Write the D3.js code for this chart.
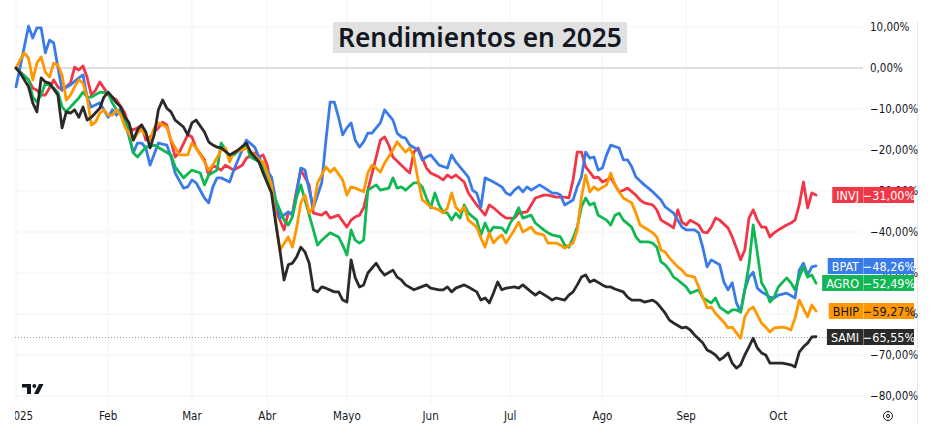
<!DOCTYPE html>
<html lang="es">
	<head>
		<meta charset="utf-8">
		<title>Rendimientos en 2025</title>
		<script type="text/javascript" src="https://cdn.jsdelivr.net/npm/d3@7/dist/d3.min.js"></script>
		<style type="text/css">
			body { margin: 0; background: #ffffff; }
			.axis text { font-family: "Liberation Sans Narrow", "DejaVu Sans Condensed", sans-serif; font-size: 11.5px; fill: #131722; }
			.tag text { font-family: "Liberation Sans Narrow", "DejaVu Sans Condensed", sans-serif; font-size: 12.5px; }
		</style>
	</head>
	<body>
		<script type="text/javascript">

			//Width and height
			var w = 935;
			var h = 435;

			//Month labels and the trading session where each month starts
			var monthLabels = ["2025", "Feb", "Mar", "Abr", "Mayo", "Jun", "Jul", "Ago", "Sep", "Oct"];
			var monthSessions = [0, 22, 42, 60, 79, 99, 118, 140, 160, 182];

			//Right axis ticks (%)
			var yTicks = [10, 0, -10, -20, -30, -40, -50, -60, -70, -80];

			//Series: [session, % change since start of year]
			var invj = [[0,0],[1,-1.0],[3,-2.9],[4,-4.9],[5,-5.4],[6,-6.6],[7,-6.6],[8,-4.9],[9,-2.9],[10,-4.6],[11,-5.4],[13,-3.7],[14,0.2],[15,-0.5],[16,0.5],[17,-2.4],[18,-6.6],[19,-5.4],[20,-3.4],[21,-4.9],[22,-6.6],[23,-7.1],[24,-7.8],[26,-11.0],[27,-14.6],[28,-15.1],[29,-14.6],[30,-13.9],[31,-17.6],[32,-16.8],[34,-14.6],[35,-13.2],[36,-13.9],[38,-21.7],[39,-20.5],[41,-16.3],[42,-16.8],[43,-19.5],[45,-22.4],[46,-26.1],[47,-23.7],[49,-24.9],[50,-23.7],[52,-24.9],[54,-23.7],[55,-22.0],[57,-20.7],[58,-21.7],[59,-21.2],[60,-23.7],[61,-29.8],[62,-34.6],[64,-39.5],[65,-35.4],[66,-35.4],[67,-29.8],[68,-24.9],[70,-28.5],[71,-35.4],[73,-35.9],[74,-35.1],[75,-36.6],[77,-35.9],[79,-38.8],[80,-37.1],[81,-36.3],[82,-35.9],[83,-34.1],[84,-29.8],[86,-21.7],[87,-17.6],[88,-16.8],[89,-18.8],[90,-21.7],[92,-23.7],[94,-25.6],[95,-20.5],[96,-19.5],[98,-24.4],[99,-25.6],[101,-26.6],[102,-27.3],[103,-26.1],[104,-26.8],[105,-26.1],[107,-27.8],[108,-30.5],[110,-33.4],[111,-34.6],[112,-35.9],[113,-33.4],[114,-34.1],[116,-35.9],[117,-36.6],[118,-36.6],[119,-36.6],[120,-35.4],[122,-35.1],[124,-31.7],[126,-31.0],[127,-31.0],[129,-31.5],[131,-31.5],[132,-31.7],[133,-27.3],[134,-20.5],[135,-20.5],[136,-24.1],[137,-25.4],[138,-26.8],[139,-26.6],[140,-27.8],[141,-27.3],[142,-26.8],[144,-30.2],[145,-29.8],[146,-29.3],[148,-31.0],[149,-32.2],[150,-32.9],[152,-33.4],[153,-34.6],[154,-37.1],[156,-38.3],[157,-39.0],[158,-34.6],[159,-37.6],[160,-38.3],[161,-37.1],[163,-38.3],[164,-40.0],[165,-40.2],[166,-38.8],[167,-36.6],[168,-37.1],[170,-39.0],[171,-41.2],[172,-43.9],[173,-46.8],[174,-44.4],[175,-36.6],[176,-34.6],[177,-37.1],[178,-38.8],[179,-38.8],[180,-41.2],[181,-40.2],[182,-39.5],[184,-38.3],[185,-37.8],[186,-37.1],[187,-33.4],[188,-27.8],[189,-34.1],[190,-30.5],[191,-31.00]];

			var bpat = [[0,-4.6],[3,10.2],[4,7.3],[5,9.8],[6,9.8],[7,3.7],[8,6.8],[9,6.1],[10,0.2],[11,-5.4],[13,-4.1],[15,-2.4],[16,-1.7],[17,-7.3],[18,-9.5],[20,-8.5],[21,-10.2],[22,-12.0],[23,-10.2],[24,-11.5],[25,-9.8],[26,-13.4],[27,-16.8],[28,-20.7],[29,-18.3],[30,-18.3],[31,-19.5],[32,-23.7],[34,-18.3],[36,-18.8],[37,-21.7],[38,-25.6],[40,-29.3],[41,-29.0],[42,-27.3],[43,-28.0],[45,-31.7],[46,-32.9],[47,-29.0],[48,-26.8],[49,-26.8],[51,-27.8],[52,-24.9],[54,-20.0],[55,-17.6],[57,-19.3],[58,-21.7],[59,-23.7],[61,-26.6],[62,-32.2],[63,-36.6],[65,-35.1],[66,-35.9],[67,-30.5],[68,-24.4],[69,-24.9],[70,-29.8],[71,-34.1],[73,-28.0],[74,-17.6],[75,-8.3],[76,-8.3],[77,-12.0],[78,-16.3],[79,-14.6],[80,-13.4],[81,-17.6],[82,-19.3],[83,-18.0],[84,-15.9],[85,-15.9],[86,-14.6],[87,-13.4],[88,-10.2],[90,-12.7],[91,-15.9],[92,-16.8],[93,-17.1],[94,-18.8],[96,-20.0],[97,-22.4],[98,-21.7],[99,-21.2],[101,-23.7],[103,-24.4],[104,-21.2],[105,-22.9],[106,-24.1],[108,-26.6],[109,-29.8],[110,-30.5],[111,-33.9],[112,-26.8],[114,-27.8],[116,-29.0],[117,-30.5],[118,-31.0],[119,-29.8],[120,-29.0],[121,-30.2],[122,-29.0],[123,-29.8],[125,-28.5],[127,-29.8],[128,-30.5],[129,-30.5],[130,-31.0],[131,-33.4],[133,-32.2],[134,-29.0],[135,-26.6],[136,-20.5],[137,-22.0],[138,-21.7],[139,-24.9],[140,-24.4],[141,-21.2],[142,-18.8],[144,-19.5],[145,-22.4],[146,-22.4],[147,-24.1],[148,-26.6],[150,-28.5],[151,-29.3],[152,-30.2],[154,-32.2],[155,-33.9],[157,-35.4],[158,-37.1],[159,-38.8],[160,-39.5],[162,-39.5],[163,-40.2],[164,-43.9],[165,-48.5],[166,-46.8],[168,-48.0],[169,-52.2],[170,-54.1],[171,-52.4],[172,-57.3],[173,-59.5],[174,-54.1],[175,-51.0],[176,-49.8],[177,-53.7],[178,-54.6],[180,-55.9],[181,-56.1],[182,-55.4],[184,-54.9],[186,-56.1],[187,-49.3],[188,-47.6],[189,-50.5],[190,-48.5],[191,-48.26]];

			var agro = [[0,0],[1,-1.0],[3,-2.9],[4,-7.1],[5,-8.3],[6,-6.6],[7,-3.7],[9,-4.9],[10,-5.9],[11,-9.5],[12,-10.7],[13,-9.5],[15,-7.3],[16,-5.9],[17,-7.1],[18,-7.1],[20,-5.9],[22,-6.1],[23,-8.5],[24,-10.2],[26,-12.0],[28,-20.7],[29,-21.7],[31,-19.3],[33,-18.8],[35,-20.0],[37,-21.2],[38,-24.1],[40,-26.8],[42,-24.9],[44,-25.6],[45,-28.5],[46,-26.1],[48,-24.9],[49,-18.3],[51,-21.7],[52,-21.2],[54,-19.5],[55,-18.8],[56,-21.7],[58,-22.9],[59,-24.4],[61,-29.0],[62,-32.2],[64,-37.1],[65,-38.3],[66,-36.3],[67,-31.5],[68,-28.5],[69,-32.2],[71,-39.5],[72,-43.2],[73,-42.0],[75,-40.2],[77,-41.2],[78,-43.2],[79,-45.6],[80,-39.5],[81,-42.0],[82,-42.7],[83,-42.0],[84,-29.8],[86,-28.5],[87,-29.8],[89,-29.3],[90,-26.8],[91,-29.3],[92,-29.0],[93,-29.8],[95,-28.0],[96,-28.0],[97,-29.0],[98,-31.7],[99,-34.1],[100,-30.5],[101,-33.4],[102,-35.1],[103,-35.4],[104,-37.1],[105,-35.4],[106,-36.6],[107,-33.4],[108,-35.4],[110,-37.1],[111,-40.7],[112,-37.8],[113,-40.2],[114,-38.8],[116,-39.0],[117,-40.2],[118,-37.8],[119,-36.3],[120,-34.1],[121,-36.6],[123,-35.9],[124,-37.8],[126,-39.5],[127,-40.2],[128,-40.7],[130,-41.2],[131,-43.2],[132,-43.7],[133,-41.5],[134,-38.8],[135,-33.9],[136,-31.7],[137,-33.4],[138,-32.9],[139,-35.9],[141,-37.1],[142,-38.3],[143,-35.9],[144,-35.4],[145,-37.1],[147,-38.8],[148,-41.2],[149,-42.4],[151,-42.4],[152,-42.7],[153,-43.7],[154,-47.3],[155,-48.0],[156,-49.3],[157,-51.0],[158,-51.7],[160,-53.4],[161,-54.9],[163,-54.1],[164,-56.1],[166,-57.3],[167,-56.1],[168,-58.3],[170,-59.8],[171,-59.0],[172,-59.0],[173,-59.5],[174,-54.1],[175,-48.0],[176,-38.3],[177,-45.1],[178,-52.4],[179,-54.1],[180,-57.1],[181,-55.9],[182,-53.4],[184,-51.2],[185,-52.4],[186,-54.1],[187,-51.0],[188,-48.5],[189,-51.0],[190,-50.5],[191,-52.49]];

			var bhip = [[0,0],[1,2.0],[2,3.7],[3,2.4],[4,-2.9],[5,1.2],[6,2.7],[7,-1.0],[8,-2.2],[9,1.2],[10,0.7],[11,-1.7],[12,-7.8],[13,-6.6],[14,-4.6],[15,-2.9],[16,-3.7],[17,-7.3],[18,-13.9],[19,-13.2],[20,-11.0],[21,-10.2],[22,-11.5],[23,-11.5],[24,-10.2],[25,-11.5],[26,-14.4],[28,-17.6],[29,-15.9],[30,-15.1],[32,-17.6],[33,-14.6],[34,-13.4],[36,-14.4],[37,-17.6],[39,-21.2],[41,-21.2],[42,-18.3],[43,-19.5],[45,-22.9],[46,-24.9],[47,-23.7],[49,-20.0],[50,-19.5],[51,-22.9],[52,-20.5],[54,-20.0],[55,-19.5],[57,-21.2],[58,-22.4],[59,-22.9],[61,-28.5],[62,-37.1],[63,-44.4],[65,-41.2],[66,-43.7],[67,-39.0],[68,-32.9],[69,-31.0],[70,-35.4],[71,-33.9],[72,-28.0],[74,-24.1],[75,-25.4],[76,-24.4],[78,-27.3],[79,-31.0],[80,-29.0],[81,-29.3],[83,-30.2],[84,-25.6],[85,-23.7],[86,-24.4],[87,-25.4],[88,-23.2],[90,-20.0],[91,-18.0],[92,-19.3],[93,-20.5],[94,-19.5],[95,-21.7],[96,-27.3],[97,-32.2],[98,-32.9],[99,-33.9],[101,-34.6],[102,-35.4],[103,-34.1],[104,-30.5],[105,-33.9],[106,-35.1],[107,-33.9],[108,-37.1],[110,-38.8],[111,-41.5],[112,-43.7],[113,-40.2],[114,-42.7],[115,-41.5],[116,-40.7],[117,-42.7],[119,-39.5],[120,-37.6],[121,-40.0],[123,-38.8],[124,-40.2],[126,-40.7],[127,-42.7],[129,-42.7],[130,-43.2],[131,-43.9],[133,-42.7],[134,-39.5],[135,-31.5],[136,-26.1],[137,-30.2],[138,-29.0],[139,-29.8],[141,-28.5],[142,-25.6],[143,-28.5],[144,-30.2],[145,-31.7],[147,-32.9],[148,-35.4],[149,-38.3],[151,-39.5],[152,-40.2],[153,-41.2],[154,-44.4],[155,-44.9],[156,-46.3],[158,-48.5],[159,-49.3],[160,-50.5],[162,-51.0],[163,-53.4],[165,-58.5],[166,-58.3],[167,-59.8],[169,-62.0],[170,-63.4],[171,-63.2],[172,-64.6],[173,-65.9],[174,-60.7],[175,-59.0],[176,-58.3],[177,-60.2],[178,-62.2],[179,-63.2],[180,-64.4],[181,-63.4],[183,-63.2],[184,-63.4],[185,-63.9],[186,-61.0],[187,-56.6],[189,-60.7],[190,-57.8],[191,-59.27]];

			var sami = [[0,0],[1,-1.2],[3,-4.6],[4,-8.5],[5,-10.7],[6,-2.4],[7,-3.4],[8,-3.7],[10,-6.6],[11,-14.6],[12,-10.7],[13,-11.0],[14,-10.2],[15,-12.0],[16,-9.5],[17,-12.7],[18,-12.0],[20,-9.8],[21,-7.1],[22,-5.9],[23,-7.1],[24,-8.5],[25,-9.5],[26,-12.0],[27,-13.4],[28,-17.6],[29,-15.1],[30,-13.9],[31,-15.6],[32,-19.5],[33,-16.3],[34,-10.2],[35,-7.8],[36,-9.8],[37,-10.7],[38,-12.7],[40,-14.4],[41,-16.3],[42,-13.4],[43,-12.7],[45,-15.6],[46,-18.0],[47,-18.8],[48,-19.3],[49,-19.5],[51,-21.2],[52,-20.7],[53,-20.0],[55,-18.3],[56,-20.5],[57,-21.7],[58,-22.9],[59,-25.6],[61,-30.5],[62,-37.8],[63,-44.4],[64,-51.7],[65,-48.0],[66,-47.6],[67,-46.1],[68,-43.7],[69,-44.9],[70,-47.6],[71,-54.1],[72,-54.6],[73,-53.4],[74,-53.7],[76,-54.6],[77,-54.6],[78,-56.6],[79,-57.1],[80,-46.8],[81,-51.2],[82,-53.4],[83,-52.9],[84,-50.0],[86,-47.6],[87,-49.3],[88,-50.5],[90,-49.3],[91,-51.0],[92,-51.7],[93,-52.9],[95,-54.1],[96,-53.7],[98,-52.9],[99,-53.7],[101,-54.1],[102,-54.1],[103,-53.4],[104,-54.6],[105,-53.7],[107,-52.9],[108,-53.4],[110,-54.6],[111,-56.6],[112,-56.1],[113,-57.3],[114,-54.9],[115,-52.2],[116,-54.1],[117,-53.7],[119,-53.4],[120,-53.7],[121,-52.9],[123,-54.6],[124,-55.4],[125,-54.6],[127,-55.9],[128,-56.6],[129,-56.1],[131,-56.6],[132,-55.4],[133,-54.6],[134,-52.9],[135,-51.0],[136,-50.5],[137,-52.2],[138,-51.7],[140,-52.9],[141,-53.4],[142,-53.4],[143,-53.9],[145,-54.6],[146,-55.9],[147,-56.6],[149,-56.6],[150,-57.1],[152,-56.6],[153,-57.3],[154,-58.5],[155,-59.8],[156,-61.5],[157,-62.2],[159,-63.4],[160,-63.2],[161,-63.9],[162,-65.1],[164,-67.1],[165,-68.8],[166,-69.3],[167,-70.0],[168,-71.2],[169,-70.5],[170,-69.5],[171,-72.0],[172,-73.2],[173,-72.4],[174,-70.0],[175,-68.0],[176,-65.9],[177,-68.3],[178,-69.5],[179,-70.0],[180,-72.0],[182,-72.0],[183,-72.0],[185,-72.4],[186,-72.9],[187,-69.3],[188,-68.0],[189,-67.1],[190,-65.6],[191,-65.55]];

			var names = ["INVJ", "BPAT", "AGRO", "BHIP", "SAMI"];
			var colors = ["#f23645", "#3a7bea", "#10b853", "#ff9800", "#2a2a2a"];
			var textColors = ["#ffffff", "#ffffff", "#ffffff", "#131722", "#ffffff"];
			var seriesData = [invj, bpat, agro, bhip, sami];

			//Number format 1,23% with a real minus sign
			var fmt = function(v) {
				var s = Math.abs(v).toFixed(2).replace(".", ",") + "%";
				return (v < 0 ? "\u2212" : "") + s;
			};

			//Scales
			var paneLeft = 15, paneRight = 863, paneBottom = 403;
			var xScale = d3.scaleLinear()
						.domain([0, 191])
						.range([16, 816]);
			var yScale = d3.scaleLinear()
						.domain([-80, 10])
						.range([396, 27]);

			//Create SVG element
			var svg = d3.select("body")
						.append("svg")
						.attr("width", w)
						.attr("height", h);

			svg.append("rect").attr("width", w).attr("height", h).attr("fill", "#ffffff");

			//Grid
			svg.append("g")
			   .selectAll("line")
			   .data(yTicks)
			   .enter()
			   .append("line")
			   .attr("x1", paneLeft)
			   .attr("x2", paneRight)
			   .attr("y1", function(d) { return yScale(d); })
			   .attr("y2", function(d) { return yScale(d); })
			   .attr("stroke", "#f2f3f5")
			   .attr("stroke-width", 1);

			svg.append("g")
			   .selectAll("line")
			   .data(monthSessions)
			   .enter()
			   .append("line")
			   .attr("x1", function(d) { return xScale(d); })
			   .attr("x2", function(d) { return xScale(d); })
			   .attr("y1", 0)
			   .attr("y2", paneBottom)
			   .attr("stroke", "#f2f3f5")
			   .attr("stroke-width", 1);

			//Zero line
			svg.append("line")
			   .attr("x1", paneLeft)
			   .attr("x2", paneRight)
			   .attr("y1", yScale(0))
			   .attr("y2", yScale(0))
			   .attr("stroke", "#c4c6cc")
			   .attr("stroke-width", 1);

			//Price line of the main symbol (SAMI)
			var lastY = Math.round(yScale(sami[sami.length - 1][1])) + 0.5;
			svg.append("line")
			   .attr("x1", paneLeft)
			   .attr("x2", paneRight)
			   .attr("y1", lastY)
			   .attr("y2", lastY)
			   .attr("stroke", "#9598a1")
			   .attr("stroke-width", 1)
			   .attr("stroke-dasharray", "1,2");

			//Right scale border
			svg.append("line")
			   .attr("x1", 917.5).attr("x2", 917.5)
			   .attr("y1", 22).attr("y2", 424)
			   .attr("stroke", "#e6e7ea");

			//Title (gray box behind it)
			var titleGroup = svg.append("g");
			titleGroup.append("rect")
			   .attr("x", 333)
			   .attr("y", 22)
			   .attr("width", 294)
			   .attr("height", 31)
			   .attr("fill", "#e1e1e1");
			var titleText = titleGroup.append("text")
			   .text("Rendimientos en 2025")
			   .attr("x", 480)
			   .attr("y", 47)
			   .attr("text-anchor", "middle")
			   .attr("font-family", "'Noto Sans', 'Open Sans', sans-serif")
			   .attr("font-weight", 600)
			   .attr("font-size", "26px")
			   .attr("fill", "#131722");
			var tl = titleText.node().getComputedTextLength();
			if (tl > 0) {
				titleText.attr("font-size", (26 * 284 / tl) + "px");
			}

			//Lines
			var line = d3.line()
						.x(function(d) { return xScale(d[0]); })
						.y(function(d) { return yScale(d[1]); });

			svg.append("g")
			   .selectAll("path")
			   .data(seriesData)
			   .enter()
			   .append("path")
			   .attr("d", line)
			   .attr("fill", "none")
			   .attr("stroke", function(d, i) { return colors[i]; })
			   .attr("stroke-width", 2.8)
			   .attr("stroke-linejoin", "round")
			   .attr("stroke-linecap", "round");

			//Right axis labels
			var yAxis = svg.append("g").attr("class", "axis");
			yAxis.selectAll("text")
			   .data(yTicks)
			   .enter()
			   .append("text")
			   .text(function(d) { return fmt(d); })
			   .attr("x", 870)
			   .attr("y", function(d) { return yScale(d); })
			   .attr("dy", "0.35em");

			//Bottom axis labels (clipped at the pane's left edge)
			svg.append("clipPath").attr("id", "xclip")
			   .append("rect").attr("x", paneLeft).attr("y", 400).attr("width", 860).attr("height", 35);

			var xAxis = svg.append("g").attr("class", "axis").attr("clip-path", "url(#xclip)");
			xAxis.selectAll("text")
			   .data(monthSessions)
			   .enter()
			   .append("text")
			   .text(function(d, i) { return monthLabels[i]; })
			   .attr("text-anchor", "middle")
			   .attr("x", function(d, i) { return xScale(d) + (i === 0 ? 4 : 0); })
			   .attr("y", 416)
			   .attr("dy", "0.35em");

			//Last value tags: name box + value box
			var tags = svg.append("g")
			   .attr("class", "tag")
			   .selectAll("g")
			   .data(seriesData)
			   .enter()
			   .append("g")
			   .attr("transform", function(d) {
			   		return "translate(0," + Math.round(yScale(d[d.length - 1][1])) + ")";
			   });

			tags.each(function(d, i) {
				var g = d3.select(this);
				var nameRect = g.append("rect")
					.attr("y", -8)
					.attr("height", 16)
					.attr("fill", colors[i]);
				var nameText = g.append("text")
					.text(names[i])
					.attr("y", 0)
					.attr("dy", "0.36em")
					.attr("text-anchor", "middle")
					.attr("fill", textColors[i]);
				var tw = nameText.node().getComputedTextLength();
				var bw = Math.max(30, tw + 8);
				nameRect.attr("x", paneRight - bw).attr("width", bw);
				nameText.attr("x", paneRight - bw / 2);

				g.append("rect")
					.attr("x", paneRight)
					.attr("y", -8)
					.attr("width", 51)
					.attr("height", 16)
					.attr("fill", colors[i]);
				g.append("line")
					.attr("x1", paneRight + 0.5).attr("x2", paneRight + 0.5)
					.attr("y1", -8).attr("y2", 8)
					.attr("stroke", "#ffffff")
					.attr("stroke-opacity", 0.35);
				g.append("text")
					.text(fmt(d[d.length - 1][1]))
					.attr("x", paneRight + 26)
					.attr("y", 0)
					.attr("dy", "0.36em")
					.attr("text-anchor", "middle")
					.attr("fill", textColors[i]);
			});

			//TradingView logo
			var logo = svg.append("g").attr("fill", "#131722");
			logo.append("path").attr("d", "M22,384H31V394H27V387.5H22Z");
			logo.append("circle").attr("cx", 34.3).attr("cy", 386).attr("r", 1.9);
			logo.append("path").attr("d", "M39,384H43.5L38.5,394H34Z");

			//Settings icon at the bottom right
			svg.append("circle")
			   .attr("cx", 888).attr("cy", 416).attr("r", 4.5)
			   .attr("fill", "none").attr("stroke", "#131722").attr("stroke-width", 1);
			svg.append("circle")
			   .attr("cx", 888).attr("cy", 416).attr("r", 1.5)
			   .attr("fill", "none").attr("stroke", "#131722").attr("stroke-width", 1);

		</script>
	</body>
</html>
